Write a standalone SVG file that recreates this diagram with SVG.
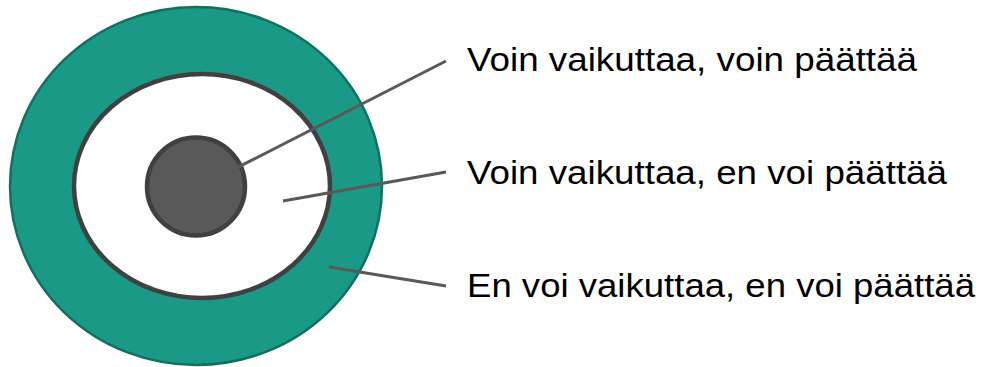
<svg xmlns="http://www.w3.org/2000/svg" width="988" height="367" viewBox="0 0 988 367">
<style>
.lbl{font-family:"Liberation Sans",Arial,sans-serif;font-size:33px;fill:#000}
.con{stroke:#595959;stroke-width:3;fill:none}
</style>
<rect width="988" height="367" fill="#fff"/>
<g id="outer"><ellipse cx="196" cy="186" rx="186" ry="179" fill="#1a9986" stroke="#10715f" stroke-width="2.5"/></g>
<g id="middle"><ellipse cx="202" cy="186" rx="128" ry="112" fill="#fff" stroke="#404040" stroke-width="4.5"/></g>
<g id="core"><circle cx="196" cy="186.5" r="49" fill="#595959" stroke="#404040" stroke-width="4.5"/></g>
<g id="connectors">
<line class="con" x1="446" y1="61" x2="213" y2="180"/>
<line class="con" x1="446" y1="172" x2="283" y2="201"/>
<line class="con" x1="446" y1="286" x2="329" y2="267"/>
</g>
<g id="label1"><text class="lbl" x="467" y="71" textLength="450" lengthAdjust="spacingAndGlyphs">Voin vaikuttaa, voin päättää</text></g>
<g id="label2"><text class="lbl" x="467" y="184" textLength="480" lengthAdjust="spacingAndGlyphs">Voin vaikuttaa, en voi päättää</text></g>
<g id="label3"><text class="lbl" x="467" y="297" textLength="508" lengthAdjust="spacingAndGlyphs">En voi vaikuttaa, en voi päättää</text></g>
</svg>
